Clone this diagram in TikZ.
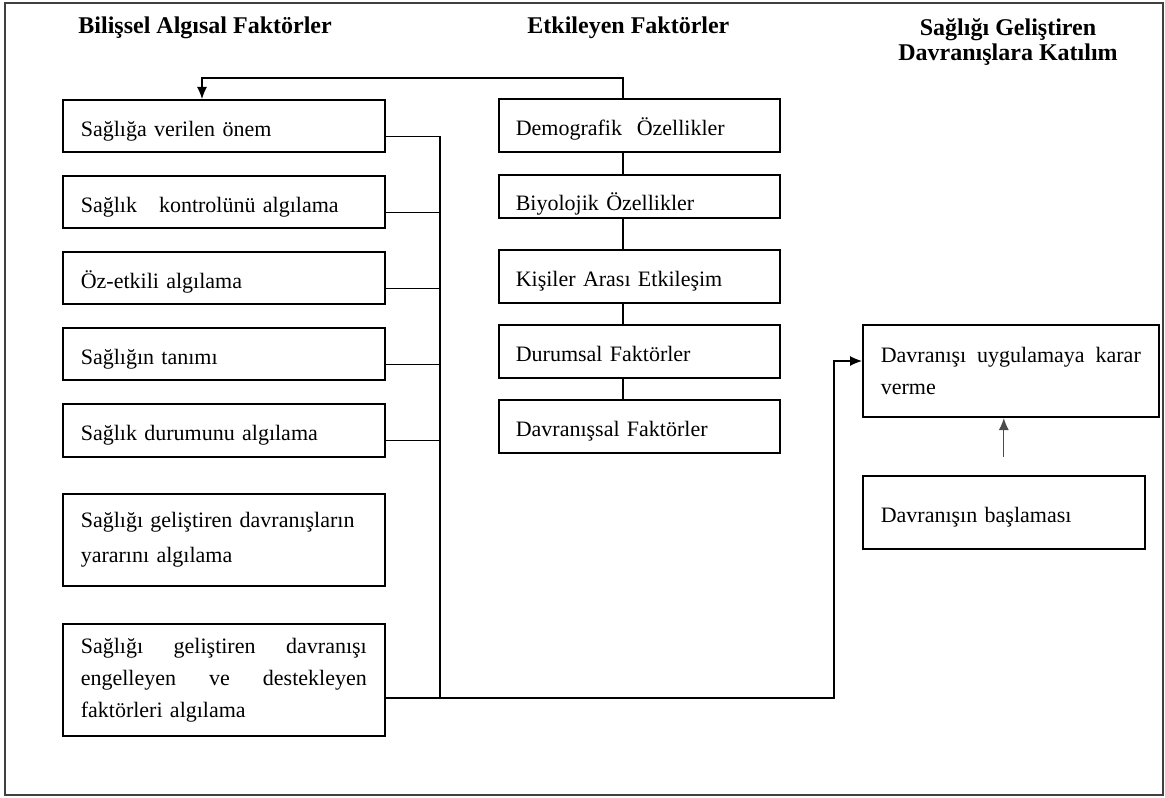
\documentclass[tikz,border=0pt]{standalone}
\usepackage{fontspec}
\setmainfont{Liberation Serif}
\usetikzlibrary{arrows.meta,positioning}

\begin{document}
\begin{tikzpicture}[x=0.5pt, y=-0.5pt, >={Latex[length=6pt,width=5pt]},
    box/.style={draw, line width=0.8pt, inner ysep=1pt, align=left, font=\fontsize{11}{16}\selectfont},
    leftbox/.style={box, text width=143pt, inner xsep=9pt},
    midbox/.style={box, text width=123.5pt, inner xsep=8.5pt},
    rightbox/.style={box, inner xsep=9pt},
    oneline/.style={text height=12.5pt, text depth=2.2pt},
    title/.style={font=\fontsize{12}{12.5}\selectfont\bfseries, inner sep=0pt},
    link/.style={line width=0.6pt}]

    \useasboundingbox (0,0) rectangle (1165,797);
    \draw [line width=0.7pt, black!75] (5,3) rectangle (1163,795);

    % Titles
    \node [title, anchor=base west]	(tleft)		at (78,34)		{Bilişsel Algısal\ Faktörler};
    \node [title, anchor=base west]	(tmid)		at (527,34)		{Etkileyen Faktörler};
    \node [title, align=center]		(tright)	at (1008,42)	{Sağlığı Geliştiren\\Davranışlara Katılım};

    % Nodes {left column}
    \node [leftbox, oneline, minimum height=26.2pt, anchor=north west]	(onem)		at (62,99)			{Sağlığa verilen önem};
    \node [leftbox, oneline, minimum height=26.2pt]	(kontrol)	[below=11pt of onem]		{Sağlık\ \ \ kontrolünü algılama};
    \node [leftbox, oneline, minimum height=26.2pt]	(ozetkili)	[below=11pt of kontrol]		{Öz-etkili algılama};
    \node [leftbox, oneline, minimum height=26.2pt]	(tanim)		[below=11pt of ozetkili]	{Sağlığın tanımı};
    \node [leftbox, oneline, minimum height=26.7pt]	(durum)		[below=11pt of tanim]		{Sağlık durumunu algılama};
    \node [leftbox, minimum height=46.2pt]			(yarar)		[below=17.5pt of durum]		{Sağlığı geliştiren davranışların\\[1.5pt]yararını algılama};
    \node [leftbox, minimum height=56.2pt]			(engel)		[below=18pt of yarar]		{Sağlığı\hfill geliştiren\hfill davranışı\\engelleyen\hfill ve\hfill destekleyen\\faktörleri algılama};

    % Nodes {middle column}
    \node [midbox, oneline, minimum height=26.7pt, anchor=north west]	(demo)	at (498,98)		{Demografik\ \ Özellikler};
    \node [midbox, text height=16pt, text depth=2.2pt, minimum height=21.7pt]	(biyo)	[below=10.5pt of demo]	{Biyolojik Özellikler};
    \node [midbox, oneline, minimum height=26.7pt]	(kisiler)	[below=15pt of biyo]		{Kişiler Arası Etkileşim};
    \node [midbox, oneline, minimum height=26.7pt]	(durumsal)	[below=10pt of kisiler]		{Durumsal Faktörler};
    \node [midbox, oneline, minimum height=26.7pt]	(davran)	[below=10pt of durumsal]	{Davranışsal Faktörler};

    % Nodes {right column}
    \node [rightbox, text width=130pt, minimum height=46.2pt, anchor=north west]	(karar)	at (862,324)	{Davranışı\hfill uygulamaya\hfill karar\\verme};
    \node [rightbox, oneline, text width=123pt, minimum height=36.7pt]	(baslama)	[below=28.5pt of karar.south west, anchor=north west]	{Davranışın başlaması};

    % Paths
    \coordinate (corner)	at (202,78);
    \coordinate (spine)		at (623,78);
    \coordinate (bus)		at (440,699);
    \coordinate (turn)		at (834,361);

    \draw [->, link]	(spine |- demo.north) |- (corner) -- (corner |- onem.north);
    \foreach \a/\b in {demo/biyo, biyo/kisiler, kisiler/durumsal, durumsal/davran}
        \draw [link]	(spine |- \a.south) -- (spine |- \b.north);

    \draw [link]	(onem.base east) -| (bus);
    \foreach \n in {kontrol, ozetkili, tanim, durum}
        \draw [link]	(\n.base east) -- (\n.base east -| bus);
    \draw [->, link]	([yshift=-9pt]engel.east) -| (turn) -- (turn -| karar.west);
    \draw [->, link, gray!60!black]	([yshift=9pt]baslama.north) -- (baslama.north |- karar.south);

\end{tikzpicture}
\end{document}
